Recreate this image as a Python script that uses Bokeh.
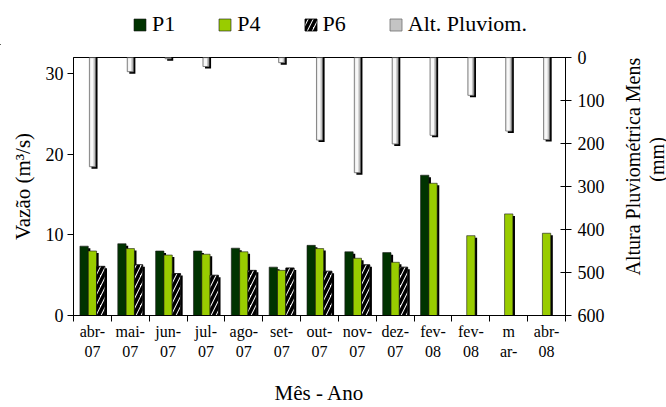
import math
from bokeh.plotting import figure
from bokeh.layouts import column, row
from bokeh.models import (Range1d, LinearAxis, FixedTicker, Legend, LegendItem, ColumnDataSource)
from bokeh.core.properties import value
from bokeh.embed import file_html
from bokeh.resources import INLINE

months_top = ["abr-", "mai-", "jun-", "jul-", "ago-", "set-", "out-",
              "nov-", "dez-", "fev-", "fev-", "m", "abr-"]
months_bot = ["07", "07", "07", "07", "07", "07", "07", "07", "07", "08", "08", "ar-", "08"]
p1 = [8.6, 8.9, 8.0, 8.0, 8.35, 6.0, 8.7, 7.9, 7.8, 17.4, None, None, None]
p4 = [8.0, 8.3, 7.5, 7.6, 7.9, 5.6, 8.3, 7.1, 6.6, 16.4, 9.9, 12.6, 10.2]
p6 = [6.1, 6.3, 5.2, 5.0, 5.6, 5.9, 5.5, 6.3, 6.0, None, None, None, None]
rain = [254, 33, 3, 21, 0, 12, 192, 268, 201, 181, 88, 171, 191]
right_title = ["Altura Pluviométrica Mensal", "(mm)"]
legend_labels = ["P1", "P4", "P6", "Alt. Pluviom."]

FONT = "Liberation Serif"
n = len(months_top)
centers = [i + 0.5 for i in range(n)]

P1_STYLE = dict(fill_color="#003300", line_color="#1a1a1a", line_width=0.6)
P4_STYLE = dict(fill_color="#99cc00", line_color="#1a1a1a", line_width=0.6)
P6_STYLE = dict(fill_color="white", line_color="black", line_width=0.8, hatch_pattern="/",
                hatch_color="black", hatch_scale=10, hatch_weight=3.5)
RAIN_STYLE = dict(fill_color="#c4c4c4", line_color="#707070", line_width=0.8)

# ---------------- main chart ----------------
p = figure(width=620, height=362, x_range=Range1d(0, n), y_range=Range1d(0, 32),
           output_backend="svg", toolbar_location=None,
           min_border_left=73, min_border_right=55, min_border_top=12, min_border_bottom=90)
p.extra_y_ranges = {"rain": Range1d(600, 0)}
p.xgrid.visible = False
p.ygrid.visible = False
p.outline_line_color = "black"

def series(vals, off):
    xs, ys = [], []
    for c, v in zip(centers, vals):
        if v is not None and v > 0:
            xs.append(c + off)
            ys.append(v)
    return xs, ys

W = 0.22
DX = 0.055
DY = 0.25
DYR = 4.6

rx, ry = series(rain, 0.0)
src_rs = ColumnDataSource(dict(x=[x + DX for x in rx], b=[v + DYR for v in ry]))
p.vbar(x="x", top=0, bottom="b", width=0.16, source=src_rs, y_range_name="rain",
       fill_color="black", line_color=None)
src_r = ColumnDataSource(dict(x=rx, b=ry))
p.vbar(x="x", top=0, bottom="b", width=0.16, source=src_r, y_range_name="rain", **RAIN_STYLE)
src_ri = ColumnDataSource(dict(x=[x - 0.015 for x in rx], b=[max(v - 1.5, 0) for v in ry]))
p.vbar(x="x", top=1.5, bottom="b", width=0.085, source=src_ri, y_range_name="rain",
       fill_color="#f8f8f8", line_color=None)

for vals, off, st in [(p1, -W, P1_STYLE), (p4, 0.0, P4_STYLE), (p6, W, P6_STYLE)]:
    xs, ys = series(vals, off)
    sh = ColumnDataSource(dict(x=[x + DX for x in xs], t=[v - DY for v in ys]))
    p.vbar(x="x", top="t", bottom=0, width=W, source=sh, fill_color="black", line_color=None)
    src = ColumnDataSource(dict(x=xs, t=ys))
    p.vbar(x="x", top="t", bottom=0, width=W, source=src, **st)

def style(ax, label_size):
    ax.axis_line_color = "black"
    ax.major_tick_line_color = "black"
    ax.minor_tick_line_color = None
    ax.major_label_text_font = FONT
    ax.major_label_text_font_size = label_size
    ax.major_label_text_color = "black"
    ax.axis_label_text_font = FONT
    ax.axis_label_text_font_style = "normal"
    ax.axis_label_text_color = "black"

ax = p.yaxis[0]
style(ax, "18px")
ax.ticker = FixedTicker(ticks=[0, 10, 20, 30])
ax.axis_label = "Vazão (m³/s)"
ax.axis_label_text_font_size = "21px"
ax.major_tick_in = 0
ax.major_tick_out = 6
ax.axis_label_standoff = 8
ax.major_label_standoff = 4

raxis = LinearAxis(y_range_name="rain", ticker=FixedTicker(ticks=[0, 100, 200, 300, 400, 500, 600]))
style(raxis, "18px")
raxis.major_tick_in = 5
raxis.major_tick_out = 6
raxis.major_label_standoff = 6
p.add_layout(raxis, "right")

xa = p.xaxis[0]
style(xa, "16px")
xa.ticker = FixedTicker(ticks=centers, minor_ticks=list(range(n + 1)))
xa.major_label_overrides = {c: m for c, m in zip(centers, months_top)}
xa.major_tick_line_color = None
xa.major_tick_in = 0
xa.major_tick_out = 6
xa.minor_tick_line_color = "black"
xa.minor_tick_in = 0
xa.minor_tick_out = 6
xa.major_label_standoff = 1

xb = LinearAxis(ticker=FixedTicker(ticks=centers))
style(xb, "16px")
xb.major_label_overrides = {c: m for c, m in zip(centers, months_bot)}
xb.axis_line_color = None
xb.major_tick_line_color = None
xb.major_tick_in = 0
xb.major_tick_out = 0
xb.major_label_standoff = 0
xb.axis_label = "Mês - Ano"
xb.axis_label_text_font_size = "21px"
xb.axis_label_standoff = 18
p.add_layout(xb, "below")

# ---------------- right title strip ----------------
rfig = figure(width=46, height=362, x_range=Range1d(0, 46), y_range=Range1d(0, 362),
              output_backend="svg", toolbar_location=None,
              min_border_left=0, min_border_right=0, min_border_top=0, min_border_bottom=0)
rfig.axis.visible = False
rfig.grid.visible = False
rfig.outline_line_color = None
rfig.text(x=[12, 36], y=[219, 219], text=right_title, angle=math.pi / 2,
          text_align="center", text_baseline="middle", text_font=value(FONT),
          text_font_size="20px", text_color="black")

# ---------------- legend strip ----------------
lfig = figure(width=666, height=45, x_range=Range1d(0, 666), y_range=Range1d(0, 45),
              output_backend="svg", toolbar_location=None,
              min_border_left=0, min_border_right=0, min_border_top=0, min_border_bottom=0)
lfig.axis.visible = False
lfig.grid.visible = False
lfig.outline_line_color = None
offscreen = lambda: ColumnDataSource(dict(x=[-50], t=[1]))
leg_r = [lfig.vbar(x="x", top="t", bottom=0, width=1, source=offscreen(), **st)
         for st in (P1_STYLE, P4_STYLE, P6_STYLE, RAIN_STYLE)]
legend = Legend(items=[LegendItem(label=lab, renderers=[r]) for lab, r in zip(legend_labels, leg_r)],
                orientation="horizontal", location=(132, 8))
legend.label_text_font = FONT
legend.label_text_font_size = "22px"
legend.label_text_color = "black"
legend.glyph_width = 15
legend.glyph_height = 15
legend.label_standoff = 5
legend.spacing = 42
legend.border_line_color = None
legend.background_fill_alpha = 0
legend.padding = 0
legend.margin = 0
lfig.add_layout(legend, "center")

layout = column(lfig, row(p, rfig, spacing=0), spacing=0)
open("out.html", "w").write(file_html(layout, INLINE))
